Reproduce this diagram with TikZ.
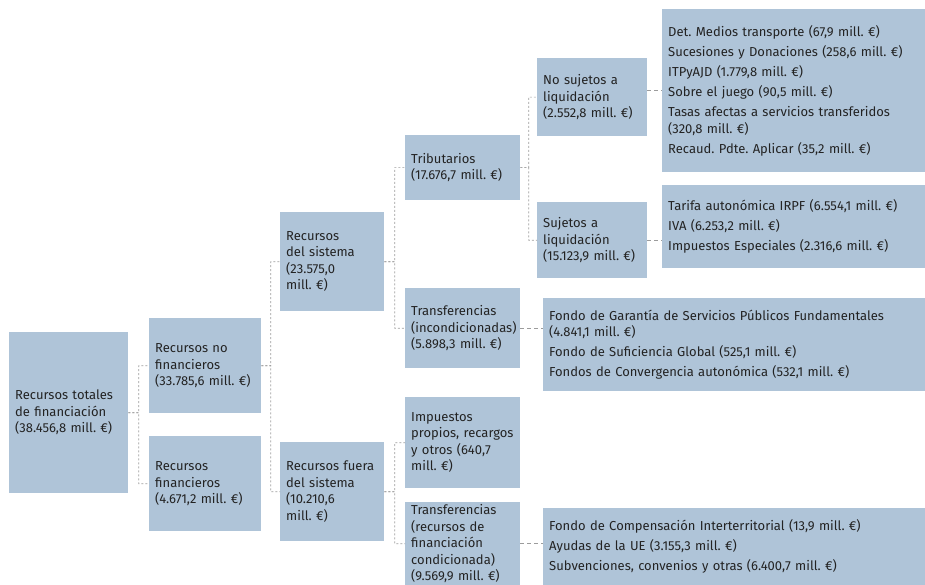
\documentclass[tikz,border=0pt]{standalone}
\usepackage{fontspec}
\setmainfont{Fira Sans}
\usepackage{xcolor}
\definecolor{cajacolor}{HTML}{AFC4D8}
\definecolor{textocolor}{HTML}{232323}
\definecolor{lineacolor}{HTML}{9C9C9C}
\usepackage{tikz}
\usetikzlibrary{calc}
\frenchspacing

\tikzset{
  caja/.style={anchor=north west, fill=cajacolor, text=textocolor, align=left,
    inner xsep=6pt, inner ysep=2pt, font=\fontsize{13}{16.5}\selectfont},
  arbol/.style={draw=lineacolor, line width=0.6pt, dash pattern=on 2pt off 2pt},
  enlace/.style={draw=lineacolor, line width=0.8pt, dash pattern=on 4pt off 3pt},
}

\begin{document}
\begin{tikzpicture}[x=1pt, y=-1pt]
  \useasboundingbox (0,0) rectangle (925,585);

  % nivel 1 y 2
  \node[caja, text width=107pt, minimum height=161pt] (total) at (9,332) {Recursos totales\\de financiación\\(38.456,8 mill. €)};
  \node[caja, text width=100pt, minimum height=95pt] (nofin) at (149,318) {Recursos no\\financieros\\(33.785,6 mill. €)};
  \node[caja, text width=100pt, minimum height=95pt] (fin) at (149,436) {Recursos\\financieros\\(4.671,2 mill. €)};

  % nivel 3
  \node[caja, text width=92pt, minimum height=99pt] (sistema) at (280,212) {Recursos\\del sistema\\(23.575,0\\mill. €)};
  \node[caja, text width=92pt, minimum height=99pt] (fuera) at (280,442) {Recursos fuera\\del sistema\\(10.210,6\\mill. €)};

  % nivel 4
  \node[caja, text width=103pt, minimum height=65pt] (trib) at (405,135) {Tributarios\\(17.676,7 mill. €)};
  \node[caja, text width=103pt, minimum height=80pt] (transinc) at (405,288) {Transferencias\\(incondicionadas)\\(5.898,3 mill. €)};
  \node[caja, text width=103pt, minimum height=91pt] (impprop) at (405,397) {Impuestos\\propios, recargos\\y otros (640,7\\mill. €)};
  \node[caja, text width=103pt, minimum height=83pt] (transcond) at (405,502) {Transferencias\\(recursos de\\financiación\\condicionada)\\(9.569,9 mill. €)};

  % nivel 5
  \node[caja, text width=98pt, minimum height=78pt] (nosuj) at (537,58) {No sujetos a\\liquidación\\(2.552,8 mill. €)};
  \node[caja, text width=98pt, minimum height=76pt] (suj) at (537,202) {Sujetos a\\liquidación\\(15.123,9 mill. €)};

  % detalle
  \node[caja, text width=252pt, minimum height=163pt] (det) at (662,9) {Det. Medios transporte (67,9 mill. €)\\[3.5pt]
    Sucesiones y Donaciones (258,6 mill. €)\\[3.5pt]
    ITPyAJD (1.779,8 mill. €)\\[3.5pt]
    Sobre el juego (90,5 mill. €)\\[3.5pt]
    Tasas afectas a servicios transferidos\\(320,8 mill. €)\\[3.5pt]
    Recaud. Pdte. Aplicar (35,2 mill. €)};
  \node[caja, text width=252pt, minimum height=83pt] (tarifa) at (662,185) {Tarifa autonómica IRPF (6.554,1 mill. €)\\[3.5pt]
    IVA (6.253,2 mill. €)\\[3.5pt]
    Impuestos Especiales (2.316,6 mill. €)};
  \node[caja, text width=371pt, minimum height=93pt] (fondogar) at (543,298) {Fondo de Garantía de Servicios Públicos Fundamentales\\(4.841,1 mill. €)\\[3.5pt]
    Fondo de Suficiencia Global (525,1 mill. €)\\[3.5pt]
    Fondos de Convergencia autonómica (532,1 mill. €)};
  \node[caja, text width=371pt, minimum height=77pt] (fondocomp) at (543,508) {Fondo de Compensación Interterritorial (13,9 mill. €)\\[3.5pt]
    Ayudas de la UE (3.155,3 mill. €)\\[3.5pt]
    Subvenciones, convenios y otras (6.400,7 mill. €)};

  % ramas
  \foreach \p/\c in {total/nofin, total/fin, nofin/sistema, nofin/fuera, sistema/trib,
                     sistema/transinc, fuera/impprop, fuera/transcond, trib/nosuj, trib/suj} {
    \draw[arbol] (\p.east) -- ($(\p.east)!0.5!(\p.east -| \c.west)$) |- (\c.west);
  }

  % enlaces al detalle
  \draw[enlace] (det.west -| nosuj.east) -- (det.west);
  \foreach \p/\c in {suj/tarifa, transinc/fondogar, transcond/fondocomp} {
    \draw[enlace] (\p.east) -- (\p.east -| \c.west);
  }

\end{tikzpicture}
\end{document}
